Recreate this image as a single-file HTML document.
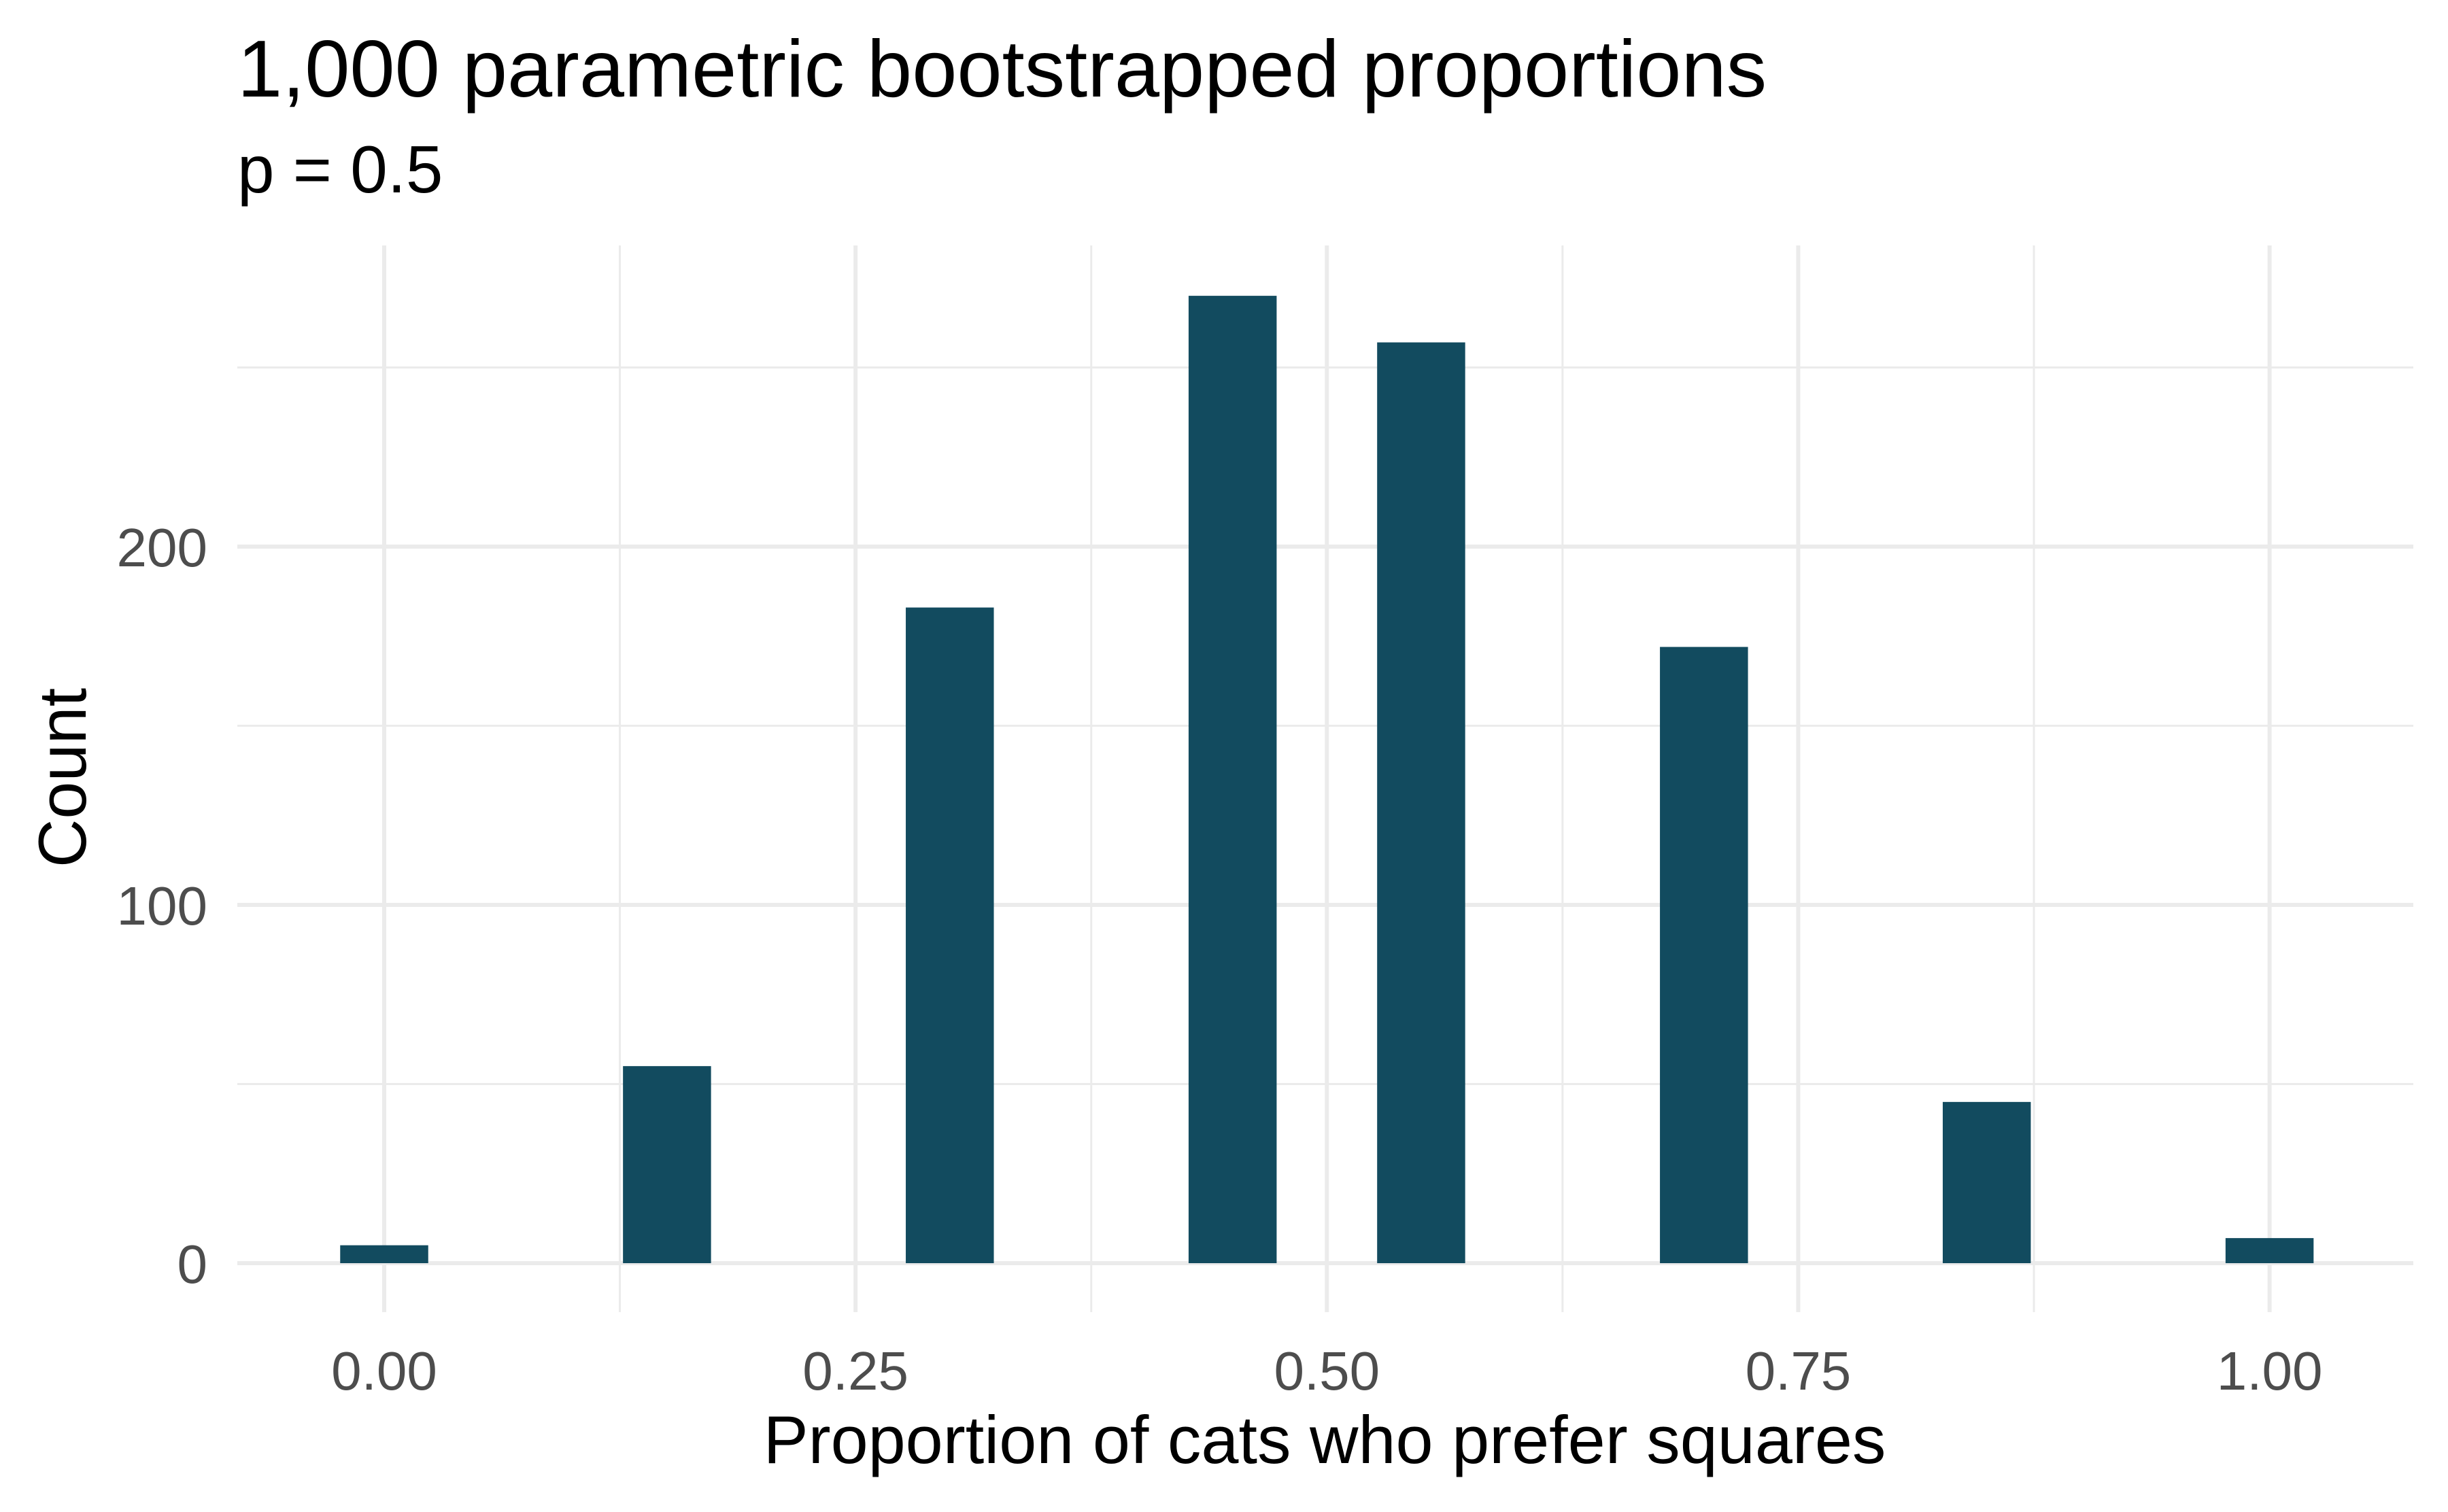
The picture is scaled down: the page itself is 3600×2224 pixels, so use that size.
<!DOCTYPE html>
<html><head><meta charset="utf-8"><style>
html,body{margin:0;padding:0;background:#fff;}
svg{display:block;font-family:"Liberation Sans",Arial,sans-serif;}
</style></head><body>
<svg id="chart" width="3600" height="2224" viewBox="0 0 3600 2224">
<rect width="3600" height="2224" fill="#fff"/>
<g id="grid"></g>
<g id="bars"></g>
<g id="xticks"></g>
<g id="yticks"></g>
<text x="349" y="142" font-size="119" fill="#000">1,000 parametric bootstrapped proportions</text>
<text x="349" y="283" font-size="98" fill="#000">p = 0.5</text>
<text x="1948" y="2152" font-size="99" fill="#000" text-anchor="middle">Proportion of cats who prefer squares</text>
<text transform="translate(126,1144) rotate(-90)" font-size="99" fill="#000" text-anchor="middle">Count</text>
</svg>
<script>
const props = [0, 0.15, 0.30, 0.45, 0.55, 0.70, 0.85, 1.0];
const counts = [5, 55, 183, 270, 257, 172, 45, 7];
const xTicks = [0, 0.25, 0.5, 0.75, 1.0];
const xTickLabels = ["0.00", "0.25", "0.50", "0.75", "1.00"];
const yTicks = [0, 100, 200];
const yTickLabels = ["0", "100", "200"];
const binWidth = 0.0467;

const NS = "http://www.w3.org/2000/svg";
const panel = {l: 349, r: 3549, t: 361, b: 1930};
function xs(v){ return 565 + v * (3337.6 - 565); }
function ys(v){ return 1858 - v * (1858 - 804) / 200; }
function mk(tag, attrs, parent){
  const e = document.createElementNS(NS, tag);
  for (const k in attrs) e.setAttribute(k, attrs[k]);
  parent.appendChild(e); return e;
}
const grid = document.getElementById('grid');
for (let i = 0; i < xTicks.length - 1; i++) {
  const v = (xTicks[i] + xTicks[i+1]) / 2;
  const l = mk('line', {x1: xs(v), x2: xs(v), y1: panel.t, y2: panel.b, stroke: '#ebebeb', 'stroke-width': 3}, grid);
  
  
}
[50, 150, 250].forEach(v => {
  const l = mk('line', {x1: panel.l, x2: panel.r, y1: ys(v), y2: ys(v), stroke: '#ebebeb', 'stroke-width': 3}, grid);
  
  
});
xTicks.forEach(v => {
  const l = mk('line', {x1: xs(v), x2: xs(v), y1: panel.t, y2: panel.b, stroke: '#ebebeb', 'stroke-width': 6}, grid);
  
  
});
yTicks.forEach(v => {
  const l = mk('line', {x1: panel.l, x2: panel.r, y1: ys(v), y2: ys(v), stroke: '#ebebeb', 'stroke-width': 6}, grid);
  
  
});
const bars = document.getElementById('bars');
props.forEach((p, i) => {
  const x0 = xs(p - binWidth/2), x1 = xs(p + binWidth/2);
  const r = mk('rect', {x: x0, y: ys(counts[i]), width: x1 - x0, height: ys(0) - ys(counts[i]), fill: '#124b5f'}, bars);
  
  
});
const xt = document.getElementById('xticks');
xTicks.forEach((v, i) => {
  const t = mk('text', {x: xs(v), y: 2044, 'font-size': 80, fill: '#4d4d4d', 'text-anchor': 'middle'}, xt);
  t.textContent = xTickLabels[i];
  
  
});
const yt = document.getElementById('yticks');
yTicks.forEach((v, i) => {
  const t = mk('text', {x: 305, y: ys(v) + 29, 'font-size': 80, fill: '#4d4d4d', 'text-anchor': 'end'}, yt);
  t.textContent = yTickLabels[i];
  
  
});
</script>
</body></html>
